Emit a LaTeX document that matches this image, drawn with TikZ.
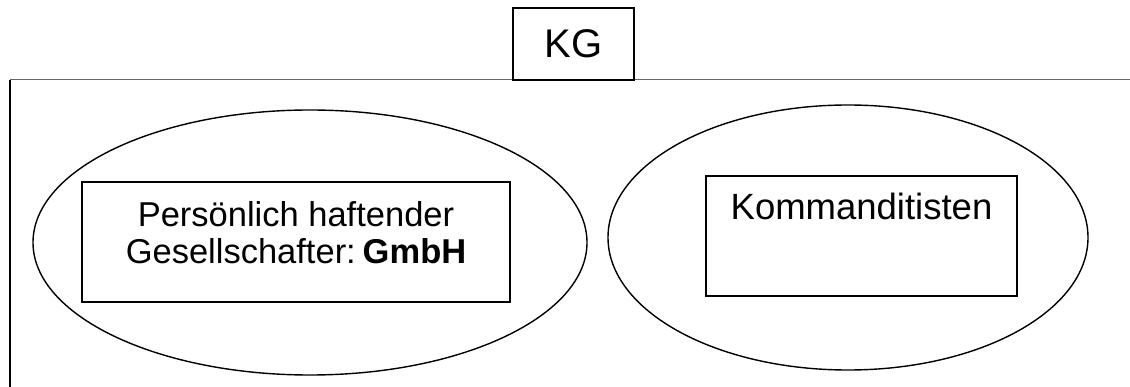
\documentclass[tikz,border=0pt]{standalone}
\usepackage{fontspec}
\setmainfont{Liberation Sans}
\usetikzlibrary{shapes.geometric}
\begin{document}
\begin{tikzpicture}[x=1pt,y=-1pt,
  oval/.style={draw=black,line width=1.4pt,ellipse,inner sep=0pt},
  boxed/.style={draw=black,line width=1.8pt,rectangle,inner sep=0pt,fill=white},
  lbl/.style={inner sep=0pt,font=\fontsize{34.5}{37}\selectfont,align=center}]
\useasboundingbox (0,0) rectangle (1130,387);
% outer frame
\coordinate (fl) at (10,80);
\coordinate (fr) at (1130,80);
\coordinate (fb) at (10,387);
\draw[line width=1pt,draw=black!60] (fl) -- (fr);
\draw[line width=1.6pt] (fl) -- (fb);
% KG tab
\node[boxed,minimum width=121pt,minimum height=72pt] (kg) at (573.5,44) {};
\node[inner sep=0pt,font=\fontsize{40}{44}\selectfont] (kgt) at (573.5,44) {KG};
% ellipses
\node[oval,minimum width=554pt,minimum height=265pt] (e1) at (310,242.5) {};
\node[oval,minimum width=480pt,minimum height=265pt] (e2) at (848,237.5) {};
% inner boxes
\node[boxed,minimum width=428pt,minimum height=120pt] (b1) at (296,242) {};
\node[lbl] (t1) at (296,233) {Persönlich haftender\\Gesellschafter:\hspace{0.2em}\textbf{GmbH}};
\node[boxed,minimum width=311pt,minimum height=120pt] (b2) at (861.5,236) {};
\node[inner sep=0pt,font=\fontsize{36.5}{40}\selectfont,anchor=base] (t2) at (861.5,220) {Kommanditisten};
\end{tikzpicture}
\end{document}
